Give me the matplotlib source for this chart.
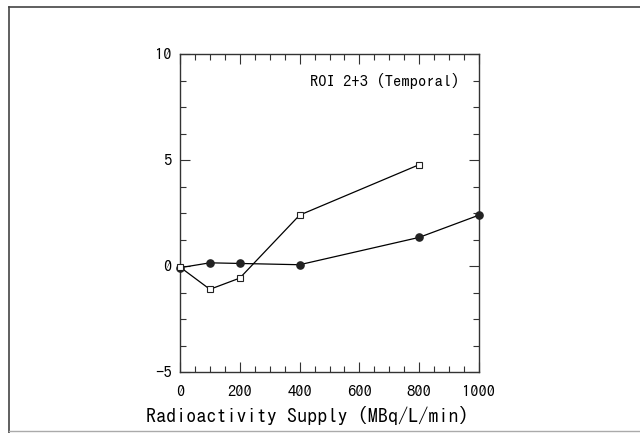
import matplotlib.pyplot as plt
from matplotlib.ticker import MultipleLocator
from matplotlib.lines import Line2D

# data
supply = [0, 100, 200, 400, 800, 1000]
filled_vals = [-0.08, 0.15, 0.12, 0.06, 1.35, 2.4]
supply_sq = [0, 100, 200, 400, 800]
open_vals = [-0.05, -1.1, -0.57, 2.4, 4.78]

plt.rcParams['font.family'] = ['IPAGothic', 'DejaVu Sans']

fig = plt.figure(figsize=(6.4, 4.33), dpi=100)
ax = fig.add_axes([180 / 640, 1 - 372 / 433, 299 / 640, 318 / 433])

ax.plot(supply, filled_vals, color='black', linewidth=0.9, marker='o',
        markersize=5.2, markerfacecolor='#222222', markeredgecolor='#222222',
        clip_on=False, zorder=3)
ax.plot(supply_sq, open_vals, color='black', linewidth=0.9, marker='s',
        markersize=4.6, markerfacecolor='white', markeredgecolor='#222222',
        markeredgewidth=0.8, clip_on=False, zorder=3)

ax.set_xlim(0, 1000)
ax.set_ylim(-5, 10)
ax.xaxis.set_major_locator(MultipleLocator(200))
ax.xaxis.set_minor_locator(MultipleLocator(50))
ax.yaxis.set_major_locator(MultipleLocator(5))
ax.yaxis.set_minor_locator(MultipleLocator(1.25))
ax.tick_params(which='both', direction='in', top=True, right=True,
               labelsize=12, width=0.8, color='#333333')
ax.tick_params(axis='x', pad=9)
ax.tick_params(axis='y', pad=6)
ax.tick_params(which='major', length=7)
ax.tick_params(which='minor', length=4)
for sp in ax.spines.values():
    sp.set_linewidth(1.0)
    sp.set_color('#333333')

ax.set_xlabel('Radioactivity Supply (MBq/L/min)', fontsize=14.5)
ax.xaxis.set_label_coords(0.4264, -0.108)
ax.text(0.686, 0.916, 'ROI 2+3 (Temporal)', transform=ax.transAxes,
        ha='center', va='center', fontsize=12)

# outer frame around the figure panel
fig.add_artist(Line2D([9 / 640, 9 / 640], [0, 1 - 7 / 433], transform=fig.transFigure,
                      color='#444444', linewidth=1.2))
fig.add_artist(Line2D([9 / 640, 1], [1 - 7 / 433, 1 - 7 / 433], transform=fig.transFigure,
                      color='#444444', linewidth=1.2))
fig.add_artist(Line2D([9 / 640, 1], [2 / 433, 2 / 433], transform=fig.transFigure,
                      color='#aaaaaa', linewidth=1.0))

fig.savefig('out.png', dpi=100)
